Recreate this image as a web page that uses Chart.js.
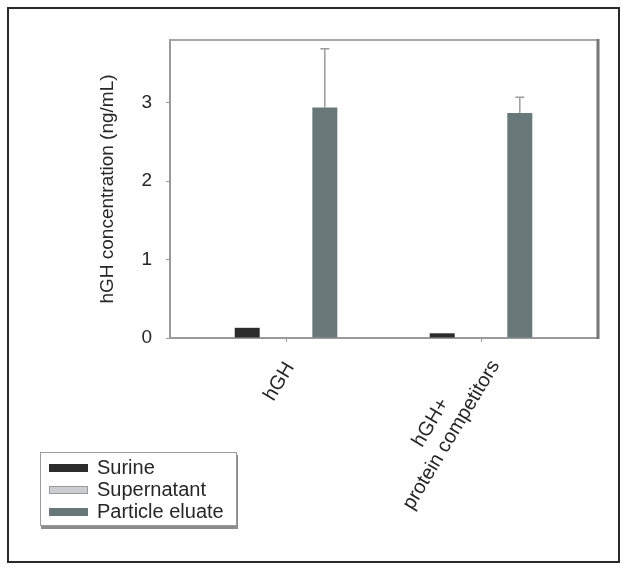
<!DOCTYPE html>
<html>
<head>
<meta charset="utf-8">
<script src="https://cdn.jsdelivr.net/npm/chart.js@4/dist/chart.umd.min.js"></script>
<style>
  html, body { margin: 0; padding: 0; background: #fff; }
  #wrap { position: relative; width: 624px; height: 569px; }
  canvas { display: block; }
</style>
</head>
<body>
<div id="wrap"><canvas id="c" width="624" height="569"></canvas></div>
<script>
// ---- data ----
const categories = [['hGH'], ['hGH+', 'protein competitors']];
const seriesNames = ['Surine', 'Supernatant', 'Particle eluate'];
const surine = [0.13, 0.06];
const supernatant = [0, 0];
const particleEluate = [2.94, 2.87];
const particleEluateErr = [0.75, 0.20];
const yTicks = [0, 1, 2, 3];
const yTitle = 'hGH concentration (ng/mL)';

const FONT = '"Liberation Sans", Arial, Helvetica, sans-serif';
const TEXT = '#262626';

function toPoints(arr) { return arr.map((v, i) => ({ x: i, y: v })); }

const framePlugin = {
  id: 'frame',
  beforeDraw(chart) {
    const ctx = chart.ctx;
    ctx.save();
    ctx.fillStyle = '#fff';
    ctx.fillRect(0, 0, chart.width, chart.height);
    ctx.strokeStyle = '#2a2a2a';
    ctx.lineWidth = 2;
    ctx.strokeRect(8, 8, 611, 554);
    ctx.restore();
  },
  afterDraw(chart) {
    const ctx = chart.ctx;
    const a = chart.chartArea;
    ctx.save();
    ctx.strokeStyle = '#a8a8a8';
    ctx.lineWidth = 2;
    ctx.beginPath(); ctx.moveTo(a.left, a.top); ctx.lineTo(a.right, a.top); ctx.stroke();
    ctx.strokeStyle = '#767676';
    ctx.lineWidth = 3;
    ctx.beginPath(); ctx.moveTo(a.right, a.top - 1); ctx.lineTo(a.right, a.bottom + 1); ctx.stroke();
    ctx.restore();
  }
};

const errorBarPlugin = {
  id: 'errbars',
  afterDatasetsDraw(chart) {
    const ctx = chart.ctx;
    const ys = chart.scales.y;
    chart.data.datasets.forEach((ds, di) => {
      if (!ds.errors) return;
      const meta = chart.getDatasetMeta(di);
      meta.data.forEach((bar, i) => {
        const e = ds.errors[i];
        if (!e) return;
        const v = ds.data[i].y;
        const yTop = ys.getPixelForValue(v + e);
        const yBar = ys.getPixelForValue(v);
        ctx.save();
        ctx.strokeStyle = '#9c9c9c';
        ctx.lineWidth = 1.5;
        ctx.beginPath();
        ctx.moveTo(bar.x, yBar);
        ctx.lineTo(bar.x, yTop);
        ctx.moveTo(bar.x - 4.5, yTop);
        ctx.lineTo(bar.x + 4.5, yTop);
        ctx.stroke();
        ctx.restore();
      });
    });
  }
};

const catLabelPlugin = {
  id: 'catlabels',
  afterDraw(chart) {
    const ctx = chart.ctx;
    const xs = chart.scales.x;
    const ang = 59 * Math.PI / 180;
    const lh = 24;
    ctx.save();
    ctx.font = '20px ' + FONT;
    ctx.fillStyle = TEXT;
    ctx.textAlign = 'center';
    ctx.textBaseline = 'middle';
    categories.forEach((lines, i) => {
      const n = lines.length;
      const px = xs.getPixelForValue(i) + 4;
      const py = xs.top + (n > 1 ? 18 : 26);
      const maxW = Math.max(...lines.map(l => ctx.measureText(l).width));
      ctx.save();
      ctx.translate(px, py);
      ctx.rotate(-ang);
      lines.forEach((l, j) => ctx.fillText(l, -maxW / 2, (j - (n - 1) / 2) * lh));
      ctx.restore();
    });
    ctx.restore();
  }
};

const legendPlugin = {
  id: 'boxlegend',
  afterDraw(chart) {
    const ctx = chart.ctx;
    const bx = 40, by = 452, bw = 197, bh = 74;
    ctx.save();
    ctx.fillStyle = '#8c8c8c';
    ctx.fillRect(bx + 1, by + 3, bw, bh);
    ctx.fillStyle = '#fff';
    ctx.fillRect(bx, by, bw, bh);
    ctx.strokeStyle = '#9a9a9a';
    ctx.lineWidth = 1;
    ctx.strokeRect(bx + 0.5, by + 0.5, bw - 1, bh - 1);
    ctx.font = '20px ' + FONT;
    ctx.textBaseline = 'middle';
    ctx.textAlign = 'left';
    const rows = [by + 16, by + 38, by + 60];
    chart.data.datasets.forEach((ds, i) => {
      const cy = rows[i];
      ctx.fillStyle = ds.backgroundColor;
      ctx.fillRect(bx + 9, cy - 4, 39, 8);
      if (ds.legendBorder) {
        ctx.strokeStyle = ds.legendBorder;
        ctx.strokeRect(bx + 9.5, cy - 3.5, 38, 7);
      }
      ctx.fillStyle = TEXT;
      ctx.fillText(ds.label, bx + 57, cy);
    });
    ctx.restore();
  }
};

new Chart(document.getElementById('c'), {
  type: 'bar',
  data: {
    labels: categories,
    datasets: [
      { label: seriesNames[0], data: toPoints(surine), backgroundColor: '#2c2c2c' },
      { label: seriesNames[1], data: toPoints(supernatant), backgroundColor: '#cbcecf', legendBorder: '#9a9a9a' },
      { label: seriesNames[2], data: toPoints(particleEluate), backgroundColor: '#687878', errors: particleEluateErr }
    ]
  },
  options: {
    responsive: false,
    animation: false,
    devicePixelRatio: 1,
    categoryPercentage: 0.597,
    barPercentage: 0.644,
    layout: { padding: { top: 40, right: 26, left: 0, bottom: 0 } },
    plugins: { legend: { display: false }, tooltip: { enabled: false } },
    scales: {
      x: {
        type: 'linear',
        min: -0.595,
        max: 1.6,
        offset: false,
        afterBuildTicks(s) { s.ticks = categories.map((c, i) => ({ value: i })); },
        afterFit(s) { s.height = 569 - 338; },
        ticks: { display: false },
        grid: { offset: false, drawOnChartArea: false, drawTicks: true, tickLength: 4, color: '#9a9a9a', lineWidth: 1 },
        border: { display: true, color: '#9a9a9a', width: 2 }
      },
      y: {
        min: 0,
        max: 3.8,
        afterBuildTicks(s) { s.ticks = yTicks.map(v => ({ value: v })); },
        afterFit(s) { s.width = 170; },
        ticks: { font: { size: 19, family: FONT }, color: TEXT, padding: 14 },
        grid: { drawOnChartArea: false, drawTicks: true, tickLength: 4, color: '#9a9a9a', lineWidth: 1 },
        border: { display: true, color: '#9a9a9a', width: 2 },
        title: { display: true, text: yTitle, font: { size: 19, family: FONT }, color: TEXT, padding: { top: 96, bottom: 0 } }
      }
    }
  },
  plugins: [framePlugin, errorBarPlugin, catLabelPlugin, legendPlugin]
});
</script>
</body>
</html>
